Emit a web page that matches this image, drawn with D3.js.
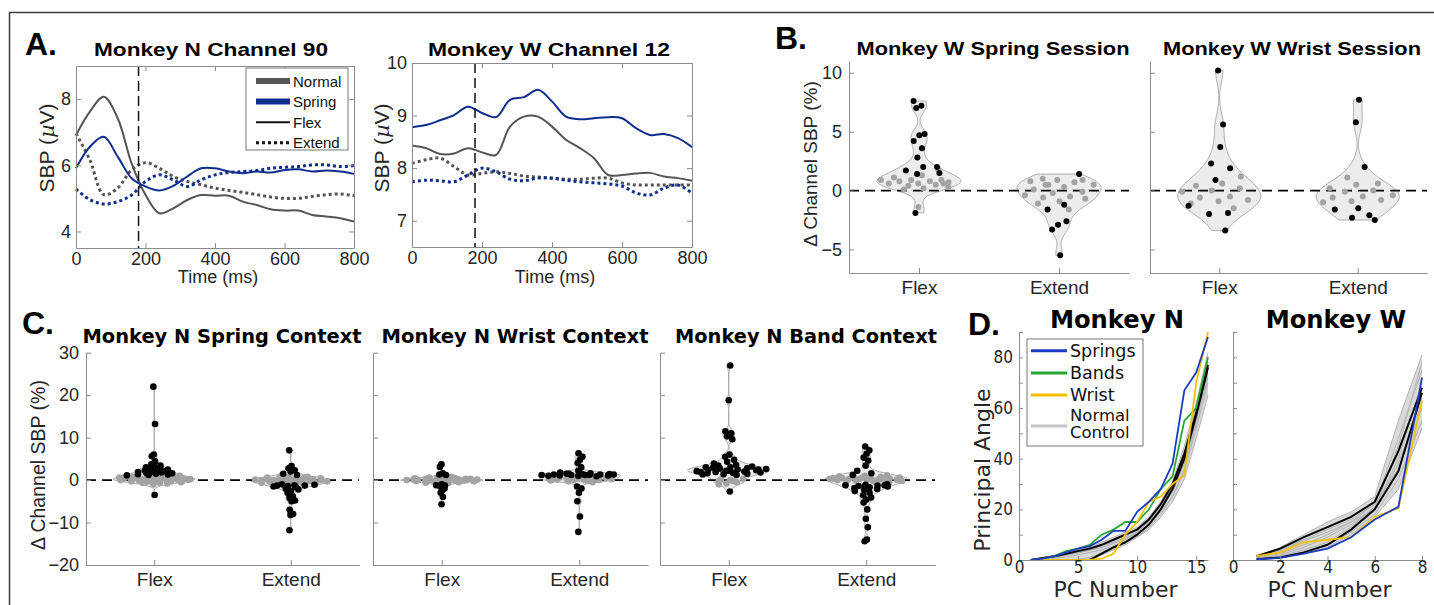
<!DOCTYPE html>
<html>
<head>
<meta charset="utf-8">
<script src="https://cdn.jsdelivr.net/npm/d3@7"></script>
<style>
  body { margin: 0; background: #fff; }
  svg { display: block; }
</style>
</head>
<body>
<svg id="fig" width="1434" height="605"></svg>
<script>
// ---------------- Panel A: SBP traces (µV) ----------------
const timeMs = [0,40,80,120,160,200,240,280,320,360,400,440,480,520,560,600,640,680,720,760,800];
const timeTicks = [0,200,400,600,800];
const cueTime = 180;

const n90NormalFlex   = [6.91,7.62,8.07,7.42,6.06,5.11,4.55,4.70,4.95,5.10,5.08,5.08,4.90,4.80,4.67,4.63,4.63,4.50,4.45,4.40,4.30];
const n90SpringFlex   = [5.91,6.56,6.86,6.26,5.61,5.36,5.24,5.38,5.66,5.91,5.91,5.81,5.76,5.81,5.78,5.86,5.88,5.81,5.84,5.81,5.74];
const n90NormalExtend = [6.96,6.16,5.11,5.31,5.86,6.08,5.91,5.66,5.51,5.41,5.31,5.24,5.18,5.11,5.04,5.00,5.00,5.06,5.11,5.13,5.08];
const n90SpringExtend = [5.28,4.96,4.83,4.90,5.10,5.51,5.71,5.56,5.36,5.56,5.71,5.78,5.81,5.84,5.91,5.94,5.96,6.01,6.01,5.96,5.99];

const w12NormalFlex   = [8.43,8.38,8.27,8.28,8.38,8.30,8.25,8.79,8.98,8.98,8.79,8.54,8.38,8.19,7.87,7.87,7.90,7.91,7.84,7.81,7.76];
const w12SpringFlex   = [8.78,8.82,8.91,9.01,9.17,9.05,8.97,9.30,9.35,9.49,9.27,8.98,8.93,8.95,8.97,8.95,8.76,8.63,8.65,8.57,8.40];
const w12NormalExtend = [8.09,8.16,8.19,8.03,7.87,7.90,7.93,7.90,7.85,7.83,7.81,7.79,7.79,7.81,7.81,7.72,7.68,7.68,7.68,7.68,7.68];
const w12SpringExtend = [7.74,7.77,7.76,7.74,7.87,8.00,7.93,7.79,7.76,7.81,7.81,7.77,7.74,7.72,7.70,7.66,7.53,7.49,7.62,7.68,7.52];

const traceLegend = ["Normal","Spring","Flex","Extend"];

// ---------------- Panels B and C: per-channel SBP change (%) ----------------
const movements = ["Flex","Extend"];

// Monkey W spring session
const bSpringFlexSig = [7.6,7.2,7.0,4.8,4.7,4.2,3.6,2.8,2.0,2.0,1.7,1.5,1.4,-1.9];
const bSpringFlexNs  = [1.8,1.3,1.1,0.9,0.9,0.9,0.8,0.8,0.7,0.6,0.6,0.5,0.4,0.3,0.2,0.1,0.6,-1.4];
const bSpringExtSig  = [1.4,-1.2,-1.6,-2.6,-2.9,-3.3,-5.5];
const bSpringExtNs   = [1.0,0.9,0.9,0.8,0.7,0.5,0.5,0.3,0.1,-0.1,-0.2,-0.4,-0.5,-0.6,-0.7,-0.9,-1.1,-1.6,0.5];
// Monkey W wrist session
const bWristFlexSig  = [10.2,5.6,3.7,2.3,1.9,0.9,-1.3,-1.9,-2.0,-3.4];
const bWristFlexNs   = [1.2,0.6,0.4,0.2,0.0,-0.1,-0.5,-0.6,-0.8,-0.9,-1.1,-1.5];
const bWristExtSig   = [7.7,5.8,2.0,-1.5,-1.6,-2.1,-2.3,-2.5];
const bWristExtNs    = [1.1,0.6,0.5,0.2,0.0,-0.1,-0.4,-0.5,-0.6,-0.8,-0.9,-1.0];

// Monkey N contexts
const cSpringFlexSig = [22.0,13.2,6.0,5.6,4.4,3.7,3.4,3.2,3.0,2.8,2.7,2.5,2.4,2.2,2.1,2.0,1.9,1.8,1.7,1.6,1.5,1.4,1.3,1.2,1.1,-3.5];
const cSpringFlexNs  = [1.0,0.9,0.8,0.7,0.7,0.6,0.5,0.5,0.4,0.4,0.3,0.3,0.2,0.2,0.1,0.1,0.0,0.0,0.0,-0.1,-0.1,-0.2,-0.2,-0.3,-0.3,-0.4,-0.5,-0.6,-0.7,-0.8,-1.0,0.6,0.3,-0.1,0.1,0.8];
const cSpringExtSig  = [7.0,3.3,2.8,2.3,2.0,1.5,1.2,-1.0,-1.1,-1.2,-1.3,-1.3,-1.4,-1.5,-1.7,-2.0,-2.2,-2.5,-3.0,-3.8,-4.2,-4.8,-5.0,-7.0,-8.0,-8.2,-11.8];
const cSpringExtNs   = [1.0,0.8,0.7,0.6,0.5,0.4,0.4,0.3,0.2,0.2,0.1,0.1,0.0,0.0,0.0,-0.1,-0.1,-0.2,-0.2,-0.3,-0.3,-0.4,-0.5,-0.5,-0.6,-0.7,-0.8,-0.9,-1.0,0.3,-0.2,0.5];
const cWristFlexSig  = [3.7,3.1,1.6,1.3,1.2,-1.0,-1.2,-1.3,-1.5,-2.0,-2.4,-3.0,-4.0,-5.7];
const cWristFlexNs   = [0.8,0.7,0.6,0.5,0.5,0.4,0.4,0.3,0.3,0.2,0.2,0.2,0.1,0.1,0.1,0.0,0.0,0.0,0.0,-0.1,-0.1,-0.1,-0.2,-0.2,-0.2,-0.3,-0.3,-0.4,-0.4,-0.5,-0.5,-0.6,-0.7,-0.8,0.3,-0.3,0.1,-0.1];
const cWristExtSig   = [6.3,5.5,4.8,4.0,3.0,2.2,1.8,1.6,1.5,1.4,1.4,1.3,1.3,1.2,1.2,1.2,1.1,1.1,1.0,1.0,0.9,1.5,1.3,1.2,-1.5,-2.0,-3.0,-5.0,-8.6,-12.2];
const cWristExtNs    = [0.6,0.5,0.4,0.3,0.3,0.2,0.2,0.1,0.1,0.0,0.0,-0.1,-0.2,-0.3,-0.5,0.4,0.2,0.0];
const cBandFlexSig   = [27.0,18.8,11.5,11.0,10.3,9.6,6.0,5.5,4.8,4.3,3.9,3.6,3.4,3.2,3.0,3.0,2.8,2.7,2.6,2.5,2.4,2.3,2.2,2.1,2.0,1.9,1.8,1.7,1.6,1.5,1.4,1.3,1.2,2.9,2.5,2.2,1.9,-2.7];
const cBandFlexNs    = [0.3,0.0,-0.3,-0.5,-0.8,-1.0,-0.2,0.1];
const cBandExtSig    = [7.9,7.0,6.2,5.3,4.6,3.4,2.2,1.6,1.2,-1.0,-1.1,-1.2,-1.3,-1.4,-1.5,-1.7,-1.9,-2.1,-2.3,-2.6,-3.0,-3.6,-4.1,-4.6,-5.3,-6.9,-9.1,-11.1,-14.0,-14.4,-1.2,-1.5];
const cBandExtNs     = [1.3,1.1,1.0,0.9,0.8,0.7,0.6,0.5,0.5,0.4,0.3,0.3,0.2,0.2,0.1,0.1,0.0,0.0,-0.1,-0.2,-0.3,-0.4,-0.5,0.6,0.4,0.2];

// ---------------- Panel D: principal angles (deg) ----------------
const pcN = d3.range(1, 17);
const nSprings = [0,0.5,1.5,3,4.5,5.5,8,11.5,11.5,19,23,28,38,67,74,88];
const nBands   = [0,0.5,1.5,3.5,4.5,6,10,12,15,15,20,28,33,55,60,80];
const nWrist   = [0,0,0,0,0,0,0.5,2.5,10,15,23,25,30,33.5,70,90];
const nMeanA   = [0,0.8,1.5,2.5,3.5,4.5,6,8,10,12,16,22,30,42,58,77];
const nMeanB   = [0,0,0,0,0,0,2.5,5,7,10,14,20,28,40,57,76];
const nControls = [
  [0,0.5,1.2,2,3,4,5.5,7,9,11,15,20,27,38,55,72],
  [0,0.3,1,1.8,2.8,3.8,5,6.5,8.5,10.5,14,19,25,35,52,70],
  [0,0,0,0,0,0,2,4,6,9,13,18,25,36,54,74],
  [0,0,0,0,0,0.5,3,5.5,8,11,15,21,29,42,60,80],
  [0,0.8,1.8,3,4,5,7,9,11,13,17,23,31,45,62,82],
  [0,0.2,0.6,1.2,2,3,4,5.5,7,9,12,17,23,32,48,65],
  [0,0,0,0,0.3,1,2.5,4.5,7,10,14,20,28,40,58,78],
  [0,0.6,1.5,2.5,3.5,4.5,6,8,10,12.5,16.5,22,30,43,60,76]
];
const wPcN = d3.range(1, 9);
const wSprings = [0.3,0.8,2.5,4.5,9,16,21,72];
const wWrist   = [1.5,3,7,8,9,17,20.5,63];
const wMeanA   = [1.5,4.5,9,13,17,23,43,68];
const wMeanB   = [0.3,1,3,6,12,20,35,66];
const wControls = [
  [1.5,5,10,15,19,25,55,81],
  [1.2,4,8,12,16,22,48,75],
  [1.0,3.5,7.5,11,15,20,40,70],
  [0.5,1.5,4,7,13,21,38,62],
  [0.3,1,3,6,11,18,32,55],
  [0.2,0.8,2.5,5,10,17,28,52],
  [0.5,2,5,9,14,20,45,78],
  [0.8,2.5,6,10,15,22,36,60]
];
const angleLegend = ["Springs","Bands","Wrist"];

// ---------------- drawing ----------------
const svg = d3.select("#fig");
const SANS = "'Liberation Sans', Arial, Helvetica, sans-serif";
const VERA = "'DejaVu Sans', Verdana, sans-serif";
const VERA_C = "'DejaVu Sans Condensed', 'DejaVu Sans', sans-serif";
const TXT = "#262626";
const AXC = "#8c8c8c";
const GRAY_TRACE = "#555555";
const NAVY = "#0e2d8c";
const C_SPRINGS = "#1b3bc4";
const C_BANDS = "#25a830";
const C_WRIST = "#f2c200";
const C_CTRL = "#c4c4c4";

function label(x, y, str, o = {}) {
  const t = svg.append("text")
    .attr("x", x).attr("y", y)
    .attr("font-family", o.family || SANS)
    .attr("font-size", o.size || 18)
    .attr("font-weight", o.weight || "normal")
    .attr("fill", o.fill || TXT)
    .attr("text-anchor", o.anchor || "middle")
    .text(str);
  if (o.rotate) t.attr("transform", `rotate(${o.rotate},${x},${y})`);
  if (o.len) t.attr("textLength", o.len).attr("lengthAdjust", "spacingAndGlyphs");
  return t;
}

function styleAxis(g, family, size) {
  g.attr("font-family", family).attr("font-size", size);
  g.select(".domain").attr("stroke", AXC);
  g.selectAll(".tick line").attr("stroke", AXC);
  g.selectAll(".tick text").attr("fill", TXT);
}

const intFmt = d3.format("d");

// outer frame
svg.append("path").attr("d", "M9.5,605 V12.5 H1434")
  .attr("fill", "none").attr("stroke", "#3c3c3c").attr("stroke-width", 1.5);

// ---- A: trace panels ----
function tracePanel(o) {
  const x = d3.scaleLinear().domain([0, 800]).range([o.left, o.right]);
  const y = d3.scaleLinear().domain(o.yDomain).range([o.bottom, o.top]);
  const g = svg.append("g");
  const line = d3.line().x((d, i) => x(timeMs[i])).y(d => y(d)).curve(d3.curveCatmullRom.alpha(0.5));
  o.series.forEach(s => {
    g.append("path").datum(s.values)
      .attr("d", line).attr("fill", "none")
      .attr("stroke", s.color)
      .attr("stroke-width", s.dotted ? 3 : 2)
      .attr("stroke-dasharray", s.dotted ? "3,3" : null);
  });
  // movement cue
  g.append("line")
    .attr("x1", x(cueTime)).attr("x2", x(cueTime))
    .attr("y1", y(o.yDomain[1])).attr("y2", y(o.yDomain[0]))
    .attr("stroke", "#111").attr("stroke-width", 1.5).attr("stroke-dasharray", "10,5");
  g.append("g").attr("transform", `translate(0,${o.bottom})`)
    .call(d3.axisBottom(x).tickValues(timeTicks).tickSize(-5).tickSizeOuter(0).tickPadding(4))
    .call(a => styleAxis(a, SANS, 18));
  g.append("g").attr("transform", `translate(0,${o.top})`)
    .call(d3.axisTop(x).tickValues(timeTicks).tickSize(-5).tickSizeOuter(0).tickFormat(""))
    .call(a => styleAxis(a, SANS, 18));
  g.append("g").attr("transform", `translate(${o.left},0)`)
    .call(d3.axisLeft(y).tickValues(o.yTicks).tickSize(-5).tickSizeOuter(0).tickPadding(5).tickFormat(intFmt))
    .call(a => styleAxis(a, SANS, 18));
  g.append("g").attr("transform", `translate(${o.right},0)`)
    .call(d3.axisRight(y).tickValues(o.yTicks).tickSize(-5).tickSizeOuter(0).tickFormat(""))
    .call(a => styleAxis(a, SANS, 18));
  label((o.left + o.right) / 2 + 3, 283, "Time (ms)", { size: 18 });
  const yl = svg.append("text")
    .attr("x", o.ylabX).attr("y", 148)
    .attr("transform", `rotate(-90,${o.ylabX},148)`)
    .attr("font-family", SANS).attr("font-size", 21).attr("fill", TXT)
    .attr("text-anchor", "middle").attr("dy", "0.35em");
  yl.append("tspan").text("SBP (");
  yl.append("tspan").attr("font-style", "italic").attr("font-family", "'DejaVu Serif', serif").text("\u00B5");
  yl.append("tspan").text("V)");
  return { x, y };
}

tracePanel({
  left: 76, right: 354, top: 66, bottom: 248, yDomain: [3.5, 9], yTicks: [4, 6, 8], ylabX: 47,
  series: [
    { values: n90NormalExtend, color: GRAY_TRACE, dotted: true },
    { values: n90SpringExtend, color: NAVY, dotted: true },
    { values: n90NormalFlex, color: GRAY_TRACE },
    { values: n90SpringFlex, color: NAVY }
  ]
});
tracePanel({
  left: 412, right: 692, top: 63, bottom: 247, yDomain: [6.5, 10], yTicks: [7, 8, 9, 10], ylabX: 382,
  series: [
    { values: w12NormalExtend, color: GRAY_TRACE, dotted: true },
    { values: w12SpringExtend, color: NAVY, dotted: true },
    { values: w12NormalFlex, color: GRAY_TRACE },
    { values: w12SpringFlex, color: NAVY }
  ]
});

// trace legend
(function () {
  const g = svg.append("g");
  g.append("rect").attr("x", 246).attr("y", 68).attr("width", 102).attr("height", 82)
    .attr("fill", "#fff").attr("stroke", "#555").attr("stroke-width", 0.8);
  const styles = [
    { color: GRAY_TRACE, w: 6 }, { color: NAVY, w: 6 },
    { color: "#111", w: 2 }, { color: "#111", w: 3, dash: "3,3" }
  ];
  traceLegend.forEach((name, i) => {
    const yy = 81 + i * 20.6;
    g.append("line").attr("x1", 256).attr("x2", 290).attr("y1", yy).attr("y2", yy)
      .attr("stroke", styles[i].color).attr("stroke-width", styles[i].w)
      .attr("stroke-dasharray", styles[i].dash || null);
    g.append("text").attr("x", 293).attr("y", yy + 5.5).attr("font-family", SANS)
      .attr("font-size", 15).attr("fill", "#111").text(name);
  });
})();

label(25, 55, "A.", { size: 32, weight: 900, anchor: "start", fill: "#000" });
label(211, 56, "Monkey N Channel 90", { size: 18.5, weight: "bold", len: 234, fill: "#000" });
label(549, 56, "Monkey W Channel 12", { size: 18.5, weight: "bold", len: 242, fill: "#000" });

// ---- B and C: violin panels ----
function robustBandwidth(vals) {
  const med = d3.median(vals);
  const mad = d3.median(vals, v => Math.abs(v - med));
  return (mad / 0.6745) * Math.pow(4 / (3 * vals.length), 0.2);
}
function kernelDensity(vals, h) {
  return v => d3.mean(vals, d => Math.exp(-0.5 * ((v - d) / h) ** 2)) / (h * Math.sqrt(2 * Math.PI));
}

function violinPanel(o) {
  const x = d3.scaleLinear().domain([0.5, 2.5]).range([o.left, o.right]);
  const y = d3.scaleLinear().domain(o.yDomain).range([o.bottom, o.top]);
  const g = svg.append("g");
  const halfWidth = 0.3;

  const groups = o.groups.map((grp, k) => {
    const all = grp.sig.concat(grp.ns);
    const h = robustBandwidth(all);
    const dens = kernelDensity(all, h);
    const lo = d3.min(all), hi = d3.max(all);
    const grid = d3.range(0, 121).map(i => lo + (hi - lo) * i / 120);
    const peak = d3.max(grid, dens);
    const width = v => dens(v) / peak * halfWidth;
    return { c: k + 1, grp, grid, width };
  });

  // violin bodies
  groups.forEach(G => {
    const area = d3.area()
      .y(v => y(v))
      .x0(v => x(G.c - G.width(v)))
      .x1(v => x(G.c + G.width(v)))
      .curve(d3.curveLinear);
    g.append("path").datum(G.grid).attr("d", area)
      .attr("fill", "#ececec").attr("stroke", "#9a9a9a").attr("stroke-width", 0.8);
  });

  // zero reference
  g.append("line").attr("x1", o.left).attr("x2", o.right)
    .attr("y1", y(0)).attr("y2", y(0))
    .attr("stroke", "#000").attr("stroke-width", 1.8).attr("stroke-dasharray", "10,6");

  // channel dots, spread by local density
  groups.forEach(G => {
    const pts = [];
    G.grp.ns.forEach(v => pts.push({ v, sig: false }));
    G.grp.sig.forEach(v => pts.push({ v, sig: true }));
    pts.forEach((p, i) => {
      const u = (((i + 1) * 0.6180339887 + G.c * 0.31) % 1) * 2 - 1;
      p.cx = x(G.c + u * G.width(p.v) * 0.95);
    });
    g.selectAll(null).data(pts.filter(p => !p.sig)).join("circle")
      .attr("cx", p => p.cx).attr("cy", p => y(p.v)).attr("r", o.r)
      .attr("fill", "#a3a3a3");
    g.selectAll(null).data(pts.filter(p => p.sig)).join("circle")
      .attr("cx", p => p.cx).attr("cy", p => y(p.v)).attr("r", o.r)
      .attr("fill", "#000");
  });

  // axes (left and bottom only)
  g.append("g").attr("transform", `translate(${o.left},0)`)
    .call(d3.axisLeft(y).tickValues(o.yTicks).tickSize(-5).tickSizeOuter(0).tickPadding(7)
      .tickFormat(o.showY ? intFmt : ""))
    .call(a => styleAxis(a, SANS, 18));
  g.append("g").attr("transform", `translate(0,${o.bottom})`)
    .call(d3.axisBottom(x).tickValues([1, 2]).tickSize(-5).tickSizeOuter(0).tickPadding(7)
      .tickFormat((d, i) => movements[i]))
    .call(a => styleAxis(a, SANS, 19))
    .selectAll(".tick text").attr("dy", "0.75em");
}

violinPanel({
  left: 849, right: 1129, top: 61, bottom: 273, yDomain: [-7, 11], yTicks: [-5, 0, 5, 10], showY: true, r: 3,
  groups: [{ sig: bSpringFlexSig, ns: bSpringFlexNs }, { sig: bSpringExtSig, ns: bSpringExtNs }]
});
violinPanel({
  left: 1150, right: 1427, top: 61, bottom: 273, yDomain: [-7, 11], yTicks: [-5, 0, 5, 10], showY: false, r: 3,
  groups: [{ sig: bWristFlexSig, ns: bWristFlexNs }, { sig: bWristExtSig, ns: bWristExtNs }]
});
violinPanel({
  left: 86, right: 359, top: 352.7, bottom: 565, yDomain: [-20, 30], yTicks: [-20, -10, 0, 10, 20, 30], showY: true, r: 3.3,
  groups: [{ sig: cSpringFlexSig, ns: cSpringFlexNs }, { sig: cSpringExtSig, ns: cSpringExtNs }]
});
violinPanel({
  left: 373, right: 648, top: 352.7, bottom: 565, yDomain: [-20, 30], yTicks: [-20, -10, 0, 10, 20, 30], showY: false, r: 3.3,
  groups: [{ sig: cWristFlexSig, ns: cWristFlexNs }, { sig: cWristExtSig, ns: cWristExtNs }]
});
violinPanel({
  left: 660, right: 935, top: 352.7, bottom: 565, yDomain: [-20, 30], yTicks: [-20, -10, 0, 10, 20, 30], showY: false, r: 3.3,
  groups: [{ sig: cBandFlexSig, ns: cBandFlexNs }, { sig: cBandExtSig, ns: cBandExtNs }]
});

label(775, 49, "B.", { size: 32, weight: 900, anchor: "start", fill: "#000" });
label(993, 55, "Monkey W Spring Session", { size: 18.5, weight: "bold", len: 273, fill: "#000" });
label(1292, 55, "Monkey W Wrist Session", { size: 18.5, weight: "bold", len: 258, fill: "#000" });
label(810, 164, "\u0394 Channel SBP (%)", { size: 19, rotate: -90 }).attr("dy", "0.35em");

label(22, 334, "C.", { size: 32, weight: 900, anchor: "start", fill: "#000" });
label(222, 343, "Monkey N Spring Context", { family: VERA, size: 19.4, weight: "bold", len: 279, fill: "#000" });
label(515, 343, "Monkey N Wrist Context", { family: VERA, size: 19.4, weight: "bold", len: 267, fill: "#000" });
label(806, 343, "Monkey N Band Context", { family: VERA, size: 19.4, weight: "bold", len: 262, fill: "#000" });
label(38, 465, "\u0394 Channel SBP (%)", { size: 19.5, rotate: -90 }).attr("dy", "0.35em");

// ---- D: principal angle panels ----
function anglePanel(o) {
  const x = d3.scaleLinear().domain([0, o.xMax]).range([o.left, o.right]);
  const y = d3.scaleLinear().domain([0, 90]).range([o.bottom, o.top]);
  const g = svg.append("g");
  const line = d3.line().x((d, i) => x(o.pcs[i])).y(d => y(d));
  // spread of the control comparisons
  const env = o.pcs.map((p, i) => ({ p, lo: d3.min(o.controls, c => c[i]), hi: d3.max(o.controls, c => c[i]) }));
  g.append("path").datum(env)
    .attr("d", d3.area().x(d => x(d.p)).y0(d => y(d.lo)).y1(d => y(d.hi)))
    .attr("fill", "#d9d9d9");
  o.controls.forEach(c => g.append("path").datum(c).attr("d", line)
    .attr("fill", "none").attr("stroke", "#b3b3b3").attr("stroke-width", 1));
  o.means.forEach(c => g.append("path").datum(c).attr("d", line)
    .attr("fill", "none").attr("stroke", "#000").attr("stroke-width", 2));
  o.sessions.forEach(s => g.append("path").datum(s.values).attr("d", line)
    .attr("fill", "none").attr("stroke", s.color).attr("stroke-width", 1.8));

  g.append("g").attr("transform", `translate(${o.left},0)`)
    .call(d3.axisLeft(y).tickValues(d3.range(0, 91, 10)).tickSize(-4).tickSizeOuter(0).tickPadding(6)
      .tickFormat(d => (o.showY && d % 20 === 0 && d <= 80) ? d : ""))
    .call(a => styleAxis(a, VERA_C, 17));
  g.append("g").attr("transform", `translate(0,${o.bottom})`)
    .call(d3.axisBottom(x).tickValues(o.xTicks).tickSize(-4).tickSizeOuter(0).tickPadding(1))
    .call(a => styleAxis(a, VERA_C, 17));
  g.selectAll(".tick text").attr("font-stretch", "condensed");
  label((o.left + o.right) / 2 + 2, 597, "PC Number", { family: VERA, size: 22 });
  return g;
}

anglePanel({
  left: 1019, right: 1208, top: 332, bottom: 560, xMax: 16, xTicks: [0, 5, 10, 15], pcs: pcN, showY: true,
  controls: nControls, means: [nMeanA, nMeanB],
  sessions: [{ values: nBands, color: C_BANDS }, { values: nWrist, color: C_WRIST }, { values: nSprings, color: C_SPRINGS }]
});
anglePanel({
  left: 1233, right: 1422, top: 332, bottom: 560, xMax: 8, xTicks: [0, 2, 4, 6, 8], pcs: wPcN, showY: false,
  controls: wControls, means: [wMeanA, wMeanB],
  sessions: [{ values: wWrist, color: C_WRIST }, { values: wSprings, color: C_SPRINGS }]
});

// angle legend
(function () {
  const g = svg.append("g");
  g.append("rect").attr("x", 1027).attr("y", 339).attr("width", 116).attr("height", 107)
    .attr("fill", "#fff").attr("stroke", "#555").attr("stroke-width", 0.8);
  const colors = [C_SPRINGS, C_BANDS, C_WRIST];
  angleLegend.forEach((name, i) => {
    const yy = 350.7 + i * 22.2;
    g.append("line").attr("x1", 1031).attr("x2", 1067).attr("y1", yy).attr("y2", yy)
      .attr("stroke", colors[i]).attr("stroke-width", 3);
    g.append("text").attr("x", 1070).attr("y", yy + 6).attr("font-family", VERA)
      .attr("font-size", 17.5).attr("fill", "#111").text(name);
  });
  g.append("line").attr("x1", 1031).attr("x2", 1067).attr("y1", 426).attr("y2", 426)
    .attr("stroke", C_CTRL).attr("stroke-width", 3);
  const ctl = g.append("text").attr("x", 1070).attr("y", 421).attr("font-family", VERA)
    .attr("font-size", 16.5).attr("fill", "#111");
  ctl.append("tspan").attr("x", 1070).text("Normal");
  ctl.append("tspan").attr("x", 1070).attr("dy", 17).text("Control");
})();

label(968, 335, "D.", { size: 32, weight: 900, anchor: "start", fill: "#000" });
label(1117, 328, "Monkey N", { family: VERA, size: 24.2, weight: "bold", fill: "#000" });
label(1336, 328, "Monkey W", { family: VERA, size: 24.2, weight: "bold", fill: "#000" });
label(982, 470, "Principal Angle", { family: VERA, size: 22, rotate: -90 }).attr("dy", "0.35em");
</script>
</body>
</html>
